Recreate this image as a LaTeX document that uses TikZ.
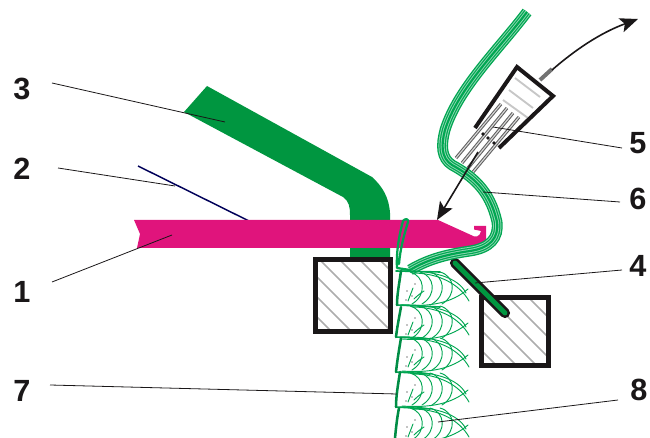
\documentclass[tikz,border=0pt]{standalone}
\usepackage{fontspec}
\setmainfont{Liberation Sans}
\usetikzlibrary{arrows.meta}
\definecolor{bargreen}{HTML}{009640}
\definecolor{yarngreen}{HTML}{00A651}
\definecolor{needlepink}{HTML}{E0147C}
\definecolor{inkblack}{HTML}{1A1718}
\tikzset{
  x=0.75pt,y=-0.75pt,
  numlabel/.style={font=\fontsize{23}{26}\selectfont\bfseries,text=inkblack,inner sep=0pt},
  leader/.style={draw=inkblack,line width=0.6pt},
  frame/.style={draw=inkblack,line width=3.75pt,line join=miter},
  hatchline/.style={draw=black!32,line width=1.1pt},
  motion/.style={draw=inkblack,line width=1.2pt,-{Stealth[length=13.5pt,width=11pt,inset=3pt]}},
  thread/.style={draw=yarngreen,line width=0.7pt,line cap=round},
  wale/.style={draw=yarngreen!85!black,line width=1.9pt,line cap=round},
  course/.style={draw=yarngreen,line width=1.2pt,line cap=round},
  blackdot/.style={fill=black,inner sep=0pt,minimum size=1.1pt,circle},
  pinstem/.style={draw=black!62,line width=2.4pt},
  pincore/.style={draw=black!15,line width=0.8pt},
}
\newcommand{\yarnline}{(527,12) .. controls (500,48) and (458,88) .. (445,130) .. controls (441,145) and (441,158) .. (452,165) .. controls (472,176) and (490,190) .. (497,222) .. controls (499,238) and (490,248) .. (470,251) .. controls (450,254) and (430,258) .. (410,270)}
\newcommand{\stitchfan}[1]{%
  \begin{scope}[yshift=-0.75*#1 pt]
    \draw[thread] (400,0) .. controls (432,-1) and (458,6) .. (466,22);
    \draw[thread] (402,34) .. controls (430,36) and (452,32) .. (468,18);
    \draw[thread] (412,2) .. controls (440,2) and (460,14) .. (469,30);
    \foreach \e in {421,431,441,451}{
      \draw[thread] (\e-11,1) .. controls (\e+4,5) and (\e+6,24) .. (\e-9,33);
    }
    \draw[thread] (408,30) -- (413,17);
    \draw[thread] (414,28) .. controls (418,24) and (421,22) .. (424,20);
    \node[blackdot] at (407,20) {};
    \node[blackdot] at (412,25) {};
    \node[blackdot] at (406,29) {};
    \node[blackdot] at (415,13) {};
  \end{scope}}
\begin{document}
\begin{tikzpicture}
\useasboundingbox (0,0) rectangle (650,438);

% presser bar 3
\fill[bargreen] (207,86) -- (184,112) -- (343,197) .. controls (349,201) and (350,207) .. (350,215)
  -- (350,258) -- (390,258) -- (390,213) .. controls (389,197) and (382,186) .. (372,177) -- cycle;

% thin line 2
\draw[draw=blue!35!black,line width=1.1pt] (138,166) -- (249,221);

% needle 1
\fill[needlepink] (134,220) -- (438,220) -- (471,235) .. controls (475,238) and (480,237) .. (481,231)
  -- (474,229.5) -- (474,226) -- (486,226) -- (486,241)
  .. controls (485,246) and (482,248) .. (476,248) -- (137,248) -- (140,234) -- cycle;

% boxes with hatching
\begin{scope}
  \clip (315.5,259.5) rectangle (390.5,331.5);
  \foreach \s in {-60,-40,...,80}{\draw[hatchline] (315+\s,255) -- (415+\s,355);}
\end{scope}
\draw[frame] (315.5,259.5) rectangle (390.5,331.5);
\begin{scope}
  \clip (481,298) rectangle (548,366);
  \foreach \s in {-60,-40,...,60}{\draw[hatchline] (481+\s,290) -- (581+\s,390);}
\end{scope}
\draw[frame] (481,298) rectangle (548,366);

% bar 4
\draw[draw=inkblack,line width=7.6pt,line cap=round] (455,263) -- (505,313);
\draw[draw=bargreen,line width=3.6pt,line cap=round] (455,263) -- (505,313);

% needles in holder 5
\foreach \xa/\ya/\xb/\yb in {501/104/456/158,507/108/462/163,513/113/468/168,519/117/473/172}{
  \draw[pinstem] (\xa,\ya) -- (\xb,\yb);
  \draw[pincore] (\xa,\ya) -- (\xb,\yb);
}
\foreach \xa/\ya/\xb/\yb in {515/78/540/97,509/90/533/108,503/100/528/118}{
  \draw[draw=black!22,line width=1.4pt] (\xa,\ya) -- (\xb,\yb);
}
\draw[draw=black!55,line width=3pt] (540,80) -- (552,69);
\draw[frame,line width=3pt] (475,128) -- (517,67) -- (553,96) -- (499,148);
\foreach \cx/\cy in {483/134,488/138,494/143}{\fill[inkblack] (\cx,\cy) circle (1.9);}

% yarn bundle
\draw[draw=yarngreen,line width=8.2pt] \yarnline;
\draw[draw=white!55!yarngreen,line width=6.2pt] \yarnline;
\draw[draw=yarngreen,line width=4.8pt] \yarnline;
\draw[draw=white!55!yarngreen,line width=3pt] \yarnline;
\draw[draw=yarngreen,line width=1.6pt] \yarnline;

% knitted fabric
\foreach \y in {271,305,337,372,407}{\stitchfan{\y}}
\draw[course] (396,271) -- (440,272);
\draw[course] (397,305) -- (440,307);
\draw[course] (396,337) -- (430,339);
\draw[course] (396,372) -- (430,374);
\draw[course] (396,407) -- (430,409);
\draw[wale] (401,271) .. controls (399,285) and (397,295) .. (397,305);
\draw[wale] (401,307) .. controls (399,318) and (397,328) .. (396,337);
\draw[wale] (401,338) .. controls (399,350) and (397,362) .. (396,372);
\draw[wale] (400,372) .. controls (398,385) and (396,396) .. (396,407);
\draw[wale] (399,408) .. controls (397,418) and (396,428) .. (395,438);

% loop round the needle
\draw[draw=yarngreen,line width=1.7pt,line cap=round,line join=round]
  (410,270) -- (397,268) .. controls (396,250) and (400,232) .. (403,221)
  .. controls (405,218) and (409,219) .. (408,222)
  .. controls (404,235) and (400,250) .. (399,264);

% motion arrows
\coordinate (upstart) at (552,70);
\coordinate (uptip) at (638,19);
\coordinate (downstart) at (478,152);
\coordinate (downtip) at (437,220);
\draw[motion] (upstart) .. controls (575,50) and (600,33) .. (uptip);
\draw[motion] (downstart) -- (downtip);

% labels
\node[numlabel] (l1) at (22,292) {1};
\node[numlabel] (l2) at (22,169) {2};
\node[numlabel] (l3) at (22,89) {3};
\node[numlabel] (l4) at (638,266) {4};
\node[numlabel] (l5) at (638,143) {5};
\node[numlabel] (l6) at (638,199) {6};
\node[numlabel] (l7) at (22,391) {7};
\node[numlabel] (l8) at (639,390) {8};

% leaders
\coordinate (a1) at (52,282); \coordinate (b1) at (172,235);
\coordinate (a2) at (58,168); \coordinate (b2) at (175,186);
\coordinate (a3) at (52,83);  \coordinate (b3) at (225,122);
\coordinate (a4) at (622,270);\coordinate (b4) at (475,283);
\coordinate (a5) at (622,148);\coordinate (b5) at (493,127);
\coordinate (a6) at (620,202);\coordinate (b6) at (483,192);
\coordinate (a7) at (50,385); \coordinate (b7) at (397,394);
\coordinate (a8) at (618,400);\coordinate (b8) at (438,422);
\foreach \n in {1,...,8}{\draw[leader] (a\n) -- (b\n);}
\end{tikzpicture}
\end{document}
